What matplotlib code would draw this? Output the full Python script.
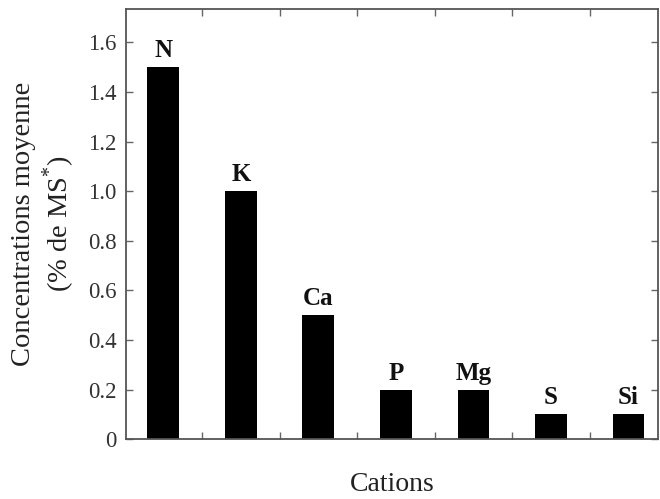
import matplotlib
matplotlib.use('Agg')
import matplotlib.pyplot as plt
from matplotlib.ticker import FixedLocator, FuncFormatter

cations = ['N', 'K', 'Ca', 'P', 'Mg', 'S', 'Si']
concentrations = [1.5, 1.0, 0.5, 0.2, 0.2, 0.1, 0.1]
yticks = [0, 0.2, 0.4, 0.6, 0.8, 1.0, 1.2, 1.4, 1.6]

plt.rcParams['font.family'] = ['Liberation Serif', 'DejaVu Serif']
plt.rcParams['mathtext.fontset'] = 'custom'
plt.rcParams['mathtext.rm'] = 'Liberation Serif'

fig = plt.figure(figsize=(6.6, 4.99), dpi=100)
ax = fig.add_axes([0.191, 0.120, 0.806, 0.862])

x = range(len(cations))
ax.bar(x, concentrations, width=0.41, color='black')

# etiquettes au-dessus des barres
for i, (c, v) in enumerate(zip(cations, concentrations)):
    ax.text(i, v + 0.02, c, ha='center', va='bottom',
            fontsize=18, fontweight='bold', color='#111111')

ax.set_xlim(-0.48, 6.38)
ax.set_ylim(0, 1.735)

ax.yaxis.set_major_locator(FixedLocator(yticks))
ax.yaxis.set_major_formatter(FuncFormatter(lambda v, p: '0' if v == 0 else f'{v:.1f}'))
ax.xaxis.set_major_locator(FixedLocator([i + 0.5 for i in range(len(cations) - 1)]))
ax.set_xticklabels([])

ax.tick_params(axis='both', direction='in', length=5, width=1, color='#666666',
               top=True, right=True, labelsize=16.5, labelcolor='#333333')
ax.tick_params(axis='y', pad=7)

for s in ax.spines.values():
    s.set_color('#555555')
    s.set_linewidth(1.3)

ax.set_ylabel('Concentrations moyenne\n(% de MS$^{*}$)', fontsize=20.5, labelpad=8,
              color='#222222', linespacing=1.15)
ax.set_xlabel('Cations', fontsize=20, labelpad=20, color='#222222')

fig.savefig('out.png', dpi=100)
